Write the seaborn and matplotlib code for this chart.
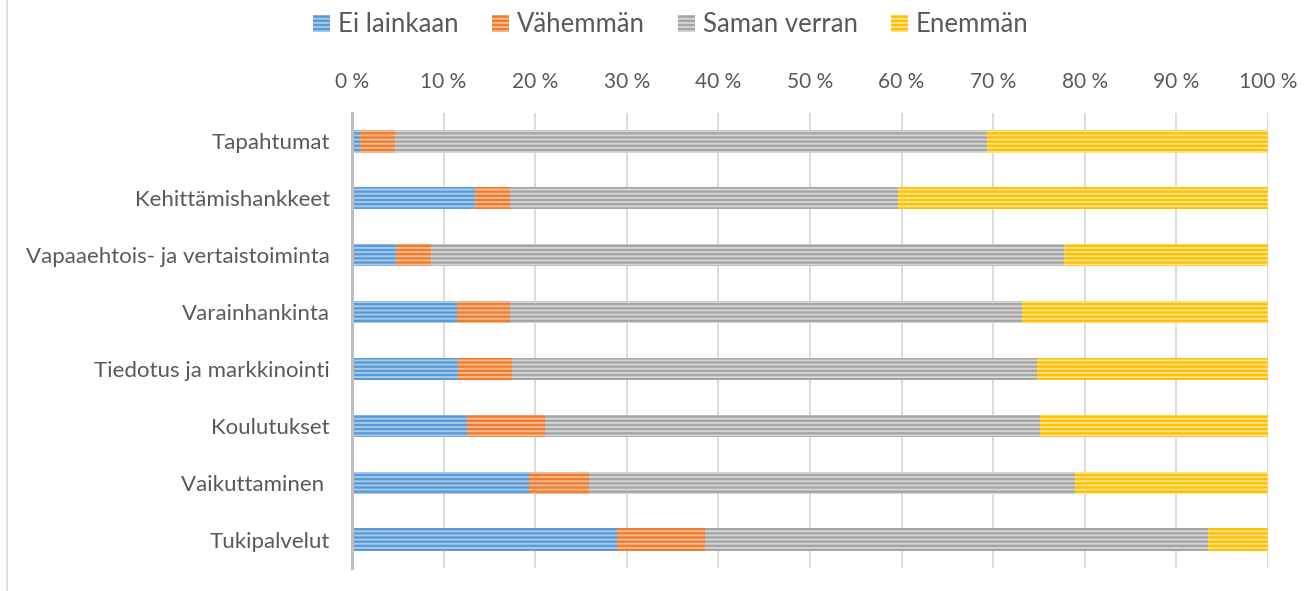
import matplotlib
matplotlib.use("Agg")
import matplotlib.pyplot as plt
import seaborn as sns
import pandas as pd
import numpy as np
from matplotlib.patches import Patch
from matplotlib.lines import Line2D
from matplotlib.ticker import FuncFormatter

categories = ["Tapahtumat", "Kehittämishankkeet", "Vapaaehtois- ja vertaistoiminta",
              "Varainhankinta", "Tiedotus ja markkinointi", "Koulutukset",
              "Vaikuttaminen ", "Tukipalvelut"]
ei_lainkaan = [0.9, 13.4, 4.8, 11.5, 11.6, 12.5, 19.3, 28.9]
vahemman = [3.8, 3.9, 3.8, 5.8, 5.9, 8.6, 6.6, 9.6]
saman_verran = [64.6, 42.3, 69.1, 55.8, 57.3, 54.0, 53.0, 54.9]
enemman = [30.7, 40.4, 22.3, 26.9, 25.2, 24.9, 21.1, 6.6]

series_names = ["Ei lainkaan", "Vähemmän", "Saman verran", "Enemmän"]
colors = ["#5B9BD5", "#ED7D31", "#A5A5A5", "#FFC000"]
stripe_colors = ["#A9CCEB", "#F6BB92", "#D6D6D6", "#FFE38F"]

sns.set_theme(style="white")
plt.rcParams["font.family"] = ["Lato", "DejaVu Sans"]
plt.rcParams["hatch.linewidth"] = 1.3

df = pd.DataFrame({"cat": categories, "s0": ei_lainkaan, "s1": vahemman,
                   "s2": saman_verran, "s3": enemman})
cum = df[["s0", "s1", "s2", "s3"]].cumsum(axis=1)

fig = plt.figure(figsize=(13.1, 5.91), dpi=100)
ax = fig.add_axes([352/1310, 1-568/591, (1268-352)/1310, (568-113)/591])

for i in [3, 2, 1, 0]:
    sns.barplot(x=cum.iloc[:, i], y=df["cat"], color=colors[i], width=0.39,
                orient="h", ax=ax, saturation=1, zorder=2)
    for p in ax.containers[-1]:
        p.set_hatch("----")
        p.set_edgecolor(stripe_colors[i])
        p.set_linewidth(0)

ax.set_xlim(0, 100)
ax.set_xticks(np.arange(0, 101, 10))
ax.xaxis.set_major_formatter(FuncFormatter(lambda v, _: f"{int(v)} %"))
ax.xaxis.tick_top()
ax.set_xlabel("")
ax.set_ylabel("")
ax.grid(axis="x", color="#D9D9D9", linewidth=1.3, zorder=0)
ax.set_axisbelow(True)
for s in ["top", "right", "bottom"]:
    ax.spines[s].set_visible(False)
ax.spines["left"].set_color("#BFBFBF")
ax.spines["left"].set_linewidth(2.2)
ax.spines["left"].set_zorder(3)
ax.tick_params(axis="both", length=0, labelcolor="#595959")
ax.tick_params(axis="x", pad=15, labelsize=15)
ax.tick_params(axis="y", pad=16, labelsize=16)

handles = [Patch(facecolor=colors[i], edgecolor=stripe_colors[i], hatch="----",
                 linewidth=0) for i in range(4)]
fig.legend(handles, series_names, loc="center", bbox_to_anchor=(671/1310, 1-25/591),
           ncol=4, frameon=False, fontsize=18.5, handlelength=0.66, handleheight=0.66,
           handletextpad=0.3, columnspacing=1.3, labelcolor="#595959")

fig.add_artist(Line2D([7/1310, 7/1310], [0, 1], color="#D9D9D9", linewidth=1.2,
                      transform=fig.transFigure))

fig.savefig("out.png", dpi=100)
